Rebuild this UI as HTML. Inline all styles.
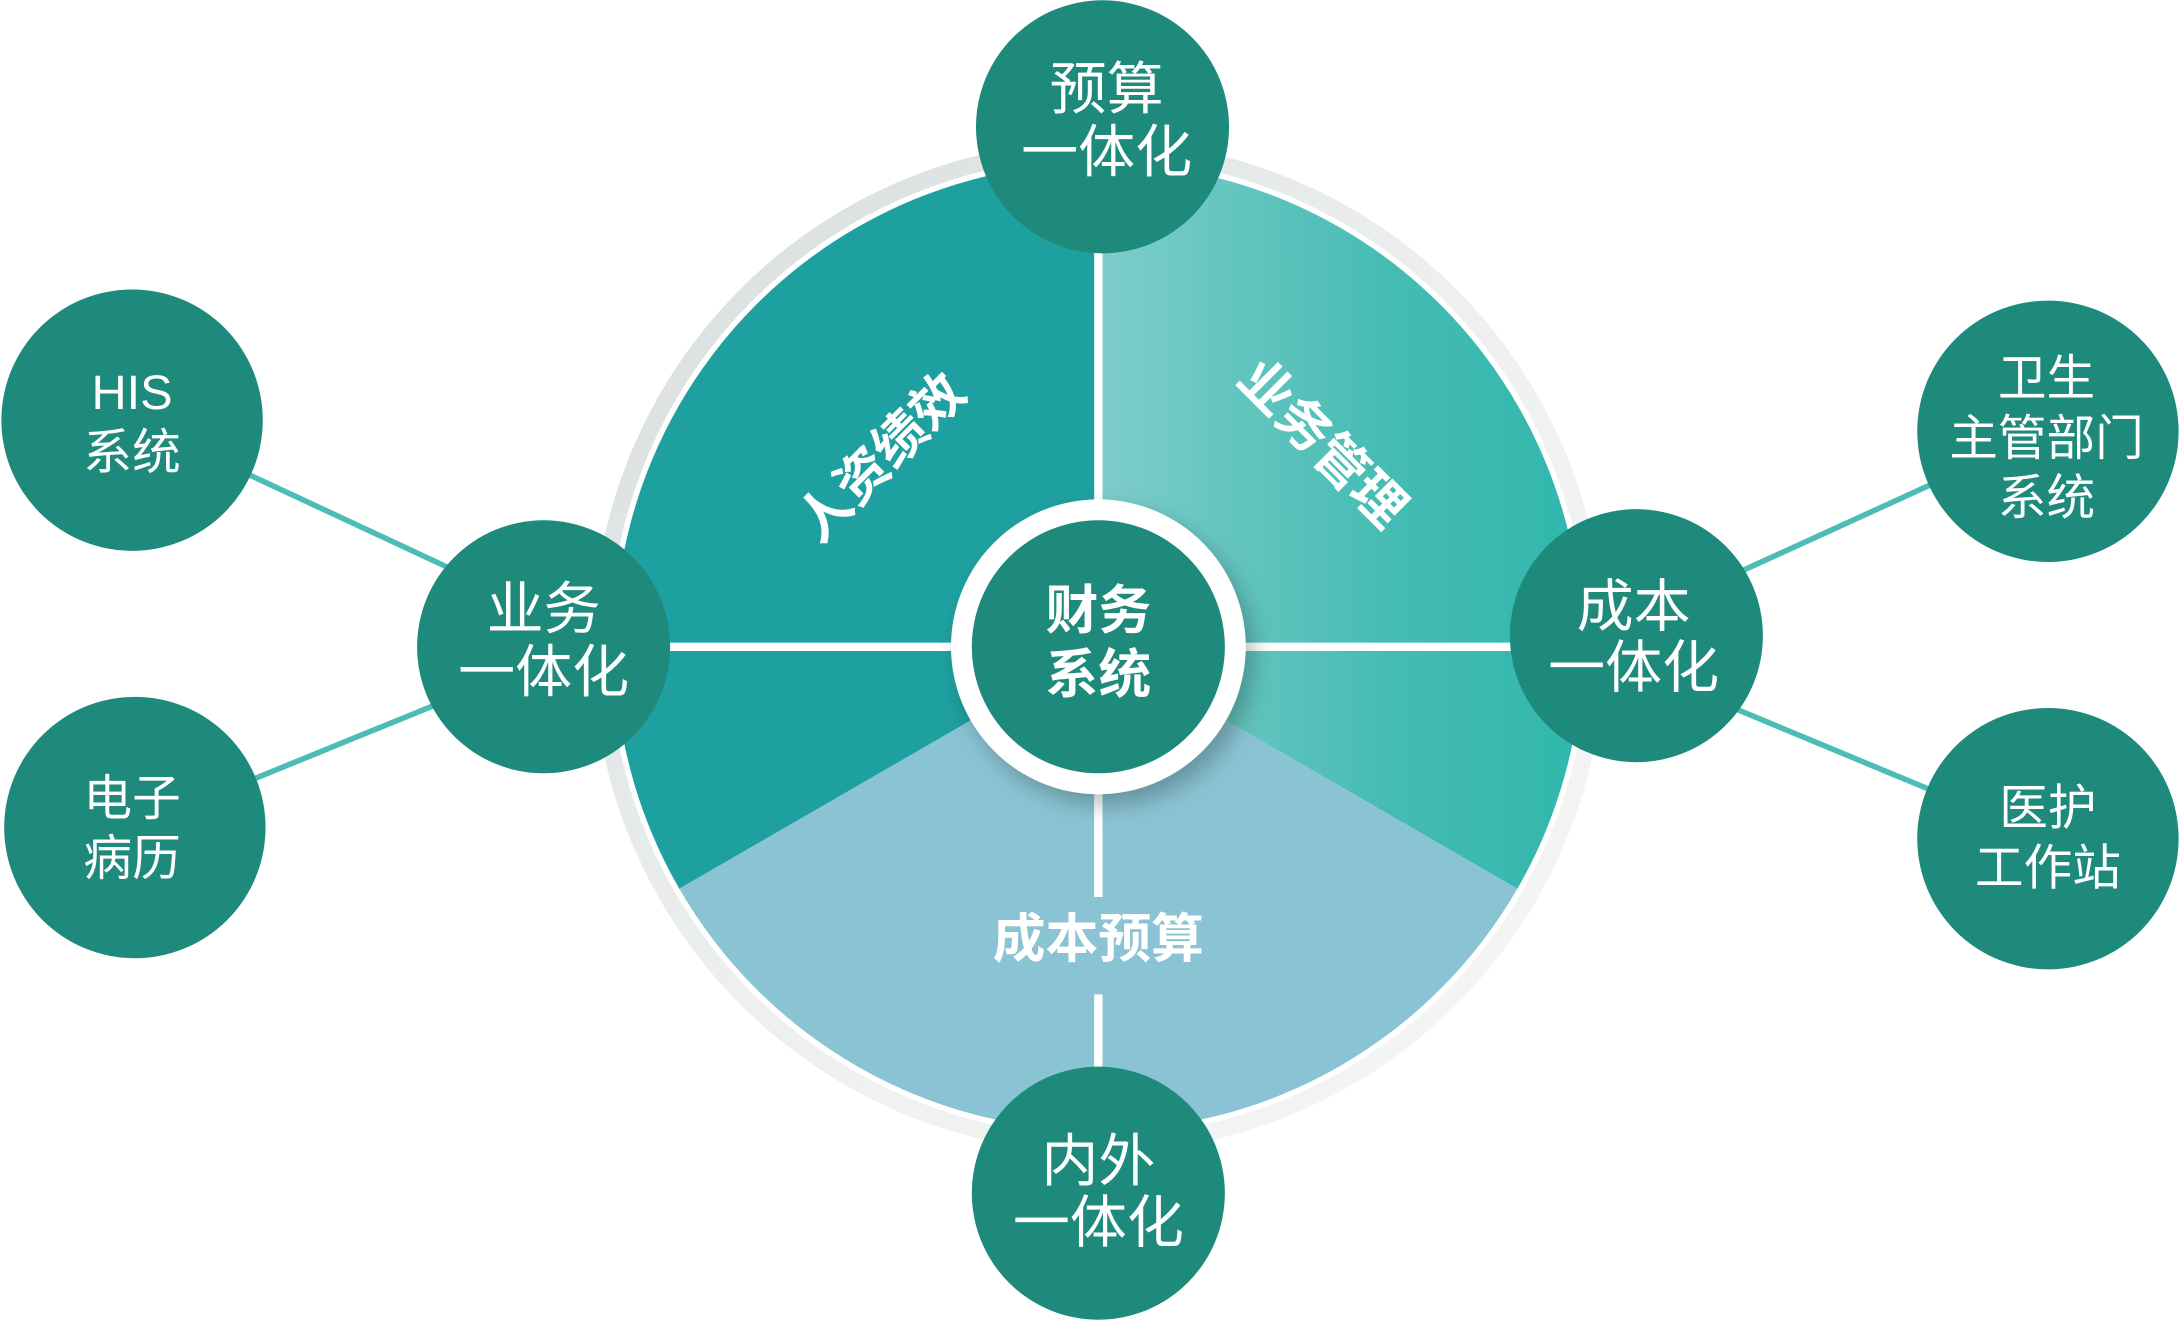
<!DOCTYPE html>
<html><head><meta charset="utf-8"><style>
html,body{margin:0;padding:0;background:#fff;}
svg{display:block;}
text{font-family:"Liberation Sans","Noto Sans CJK SC",sans-serif;fill:#fff;text-anchor:middle;}
</style></head><body>
<svg width="2180" height="1320" viewBox="0 0 1568 949" xmlns="http://www.w3.org/2000/svg">
<defs>
<linearGradient id="ring" x1="0" y1="0" x2="1" y2="1">
<stop offset="0" stop-color="#d6dbdb"/><stop offset="0.5" stop-color="#eef0f0"/><stop offset="1" stop-color="#f5f6f6"/>
</linearGradient>
<linearGradient id="tr" x1="790" y1="0" x2="1140" y2="0" gradientUnits="userSpaceOnUse">
<stop offset="0" stop-color="#7fcdcb"/><stop offset="0.6" stop-color="#45bcb3"/><stop offset="1" stop-color="#30b7ad"/>
</linearGradient>
<filter id="sh" x="-30%" y="-30%" width="160%" height="160%"><feDropShadow dx="6" dy="8" stdDeviation="8" flood-color="#000" flood-opacity="0.25"/></filter>
</defs>
<circle cx="790" cy="465" r="364" fill="url(#ring)"/>
<circle cx="790" cy="465" r="352" fill="#fff"/>
<path d="M790 465 L488.6 639 A348 348 0 0 1 790 117 Z" fill="#1fa0a0"/>
<path d="M790 465 L790 117 A348 348 0 0 1 1091.4 639 Z" fill="url(#tr)"/>
<path d="M790 465 L1091.4 639 A348 348 0 0 1 488.6 639 Z" fill="#8ac4d4"/>
<g stroke="#fff" stroke-width="6">
<line x1="790" y1="120" x2="790" y2="465"/>
<line x1="440" y1="465" x2="1140" y2="465"/>
<line x1="790" y1="465" x2="790" y2="645"/>
<line x1="790" y1="715" x2="790" y2="810"/>
</g>
<g stroke="#4cbdb5" stroke-width="4">
<line x1="95" y1="302" x2="391" y2="440"/>
<line x1="97" y1="595" x2="391" y2="475"/>
<line x1="1473" y1="310" x2="1177" y2="445"/>
<line x1="1473" y1="603" x2="1177" y2="480"/>
</g>
<g font-size="38" font-weight="bold">
<text transform="translate(643,338) rotate(-45)">人资绩效</text>
<text transform="translate(942,328) rotate(45)">业务管理</text>
<text x="790" y="688">成本预算</text>
</g>
<circle cx="790" cy="465" r="106" fill="#fff" filter="url(#sh)"/>
<circle cx="790" cy="465" r="91" fill="#1e8a7c"/>
<g font-size="38" font-weight="bold"><text x="790" y="452">财务</text><text x="790" y="498">系统</text></g>
<g fill="#1e8a7c">
<circle cx="793" cy="91" r="91"/>
<circle cx="391" cy="465" r="91"/>
<circle cx="1177" cy="457" r="91"/>
<circle cx="790" cy="858" r="91"/>
<circle cx="95" cy="302" r="94"/>
<circle cx="97" cy="595" r="94"/>
<circle cx="1473" cy="310" r="94"/>
<circle cx="1473" cy="603" r="94"/>
</g>
<g font-size="41">
<text x="796" y="78">预算</text><text x="796" y="123">一体化</text>
<text x="391" y="452">业务</text><text x="391" y="497">一体化</text>
<text x="1175" y="450">成本</text><text x="1175" y="494">一体化</text>
<text x="790" y="849">内外</text><text x="790" y="893">一体化</text>
</g>
<g font-size="35">
<text x="95" y="294">HIS</text><text x="95" y="337">系统</text>
<text x="95" y="586">电子</text><text x="95" y="629">病历</text>
<text x="1472" y="284">卫生</text><text x="1472" y="327">主管部门</text><text x="1472" y="370">系统</text>
<text x="1473" y="593">医护</text><text x="1473" y="636">工作站</text>
</g>
</svg>
</body></html>
